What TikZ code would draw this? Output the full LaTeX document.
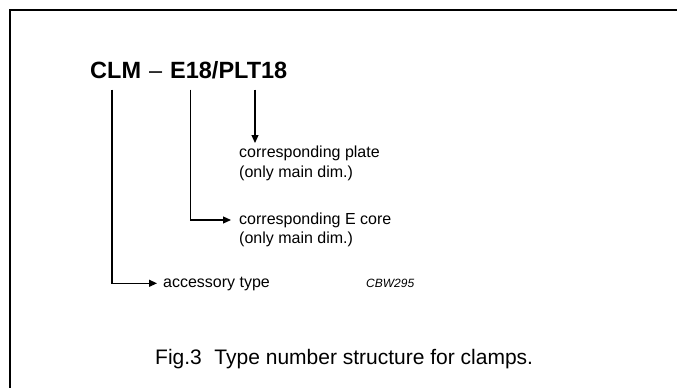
\documentclass[tikz,border=0pt]{standalone}
\usepackage{fontspec}
\setmainfont{Liberation Sans}
\usetikzlibrary{arrows.meta}
\begin{document}
\begin{tikzpicture}[x=1pt,y=-1pt,
  conn/.style={line width=1.2pt},
  arr/.style={conn,-{Triangle[length=8pt,width=7pt]}},
  lab/.style={inner sep=0pt,font=\fontsize{16}{20}\selectfont,align=left},
]
\useasboundingbox (0,0) rectangle (677,388);
\clip (0,0) rectangle (677,388);
\fill[white] (0,0) rectangle (677,388);
\draw[line width=2pt] (10,10) rectangle (700,410);
% title
\node[inner sep=0pt,anchor=base west,font=\fontsize{23.5}{28}\selectfont\bfseries] (title) at (90,78)
  {CLM\hspace{8pt}{\mdseries\char"2013}\hspace{8pt}E18/PLT18};
% start points below the title
\coordinate (sClm) at (112,89.5);
\coordinate (sE) at (190.5,89.5);
\coordinate (sPlt) at (255,89.5);
% arrow tips
\coordinate (tPlt) at (255,143);
\coordinate (tE) at (231,220);
\coordinate (tAcc) at (157,283.3);
% labels
\node[lab,anchor=base west] (plate) at (239,157) {corresponding plate};
\node[lab,anchor=base west] (plate2) at (239,177) {(only main dim.)};
\node[lab,anchor=base west] (ecore) at (239,224) {corresponding E core};
\node[lab,anchor=base west] (ecore2) at (239,243) {(only main dim.)};
\node[lab,anchor=base west] (acc) at (163,287) {accessory type};
\node[inner sep=0pt,anchor=base west,font=\fontsize{12}{14}\selectfont\itshape] (code) at (366,287) {CBW295};
% connectors
\draw[arr] (sPlt) -- (tPlt);
\draw[arr] (sE) |- (tE);
\draw[arr] (sClm) |- (tAcc);
% caption
\node[inner sep=0pt,anchor=base west,font=\fontsize{21}{25}\selectfont] (caption) at (155,364)
  {Fig.3\hspace{0.6em}Type number structure for clamps.};
\end{tikzpicture}
\end{document}
